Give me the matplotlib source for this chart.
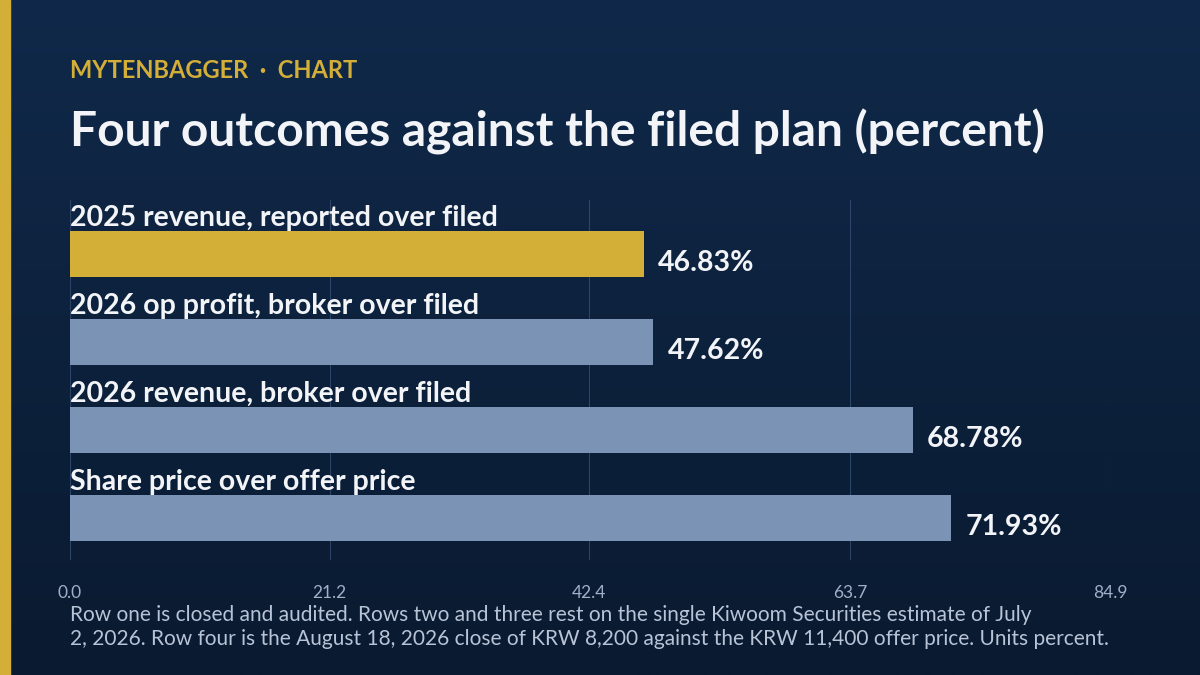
import matplotlib
matplotlib.use("Agg")
import matplotlib.pyplot as plt
import numpy as np

categories = ["2025 revenue, reported over filed", "2026 op profit, broker over filed",
              "2026 revenue, broker over filed", "Share price over offer price"]
values = [46.83, 47.62, 68.78, 71.93]
ticks = [0.0, 21.2, 42.4, 63.7, 84.9]
colors = ["#d4af37", "#7b93b5", "#7b93b5", "#7b93b5"]

plt.rcParams['font.family'] = ['Lato', 'DejaVu Sans']
W, H = 1200, 675
fig = plt.figure(figsize=(12, 6.75), dpi=100)

bg = fig.add_axes([0, 0, 1, 1])
grad = np.linspace(0, 1, 256).reshape(-1, 1)
from matplotlib.colors import LinearSegmentedColormap
cmap = LinearSegmentedColormap.from_list("g", ["#10294a", "#0a1a30"])
bg.imshow(grad, aspect='auto', cmap=cmap, extent=[0, 1, 0, 1], origin='upper')
bg.add_patch(plt.Rectangle((0, 0), 10 / W, 1, color="#d4af37"))
bg.set_xlim(0, 1); bg.set_ylim(0, 1); bg.axis('off')

fig.text(70 / W, 1 - 71 / H, "MYTENBAGGER  ·  CHART", color="#d4af37", fontsize=17,
         fontweight='bold', va='center')
fig.text(70 / W, 1 - 132 / H, "Four outcomes against the filed plan (percent)", color="#f2f4f8",
         fontsize=34.5, fontweight='bold', va='center')

ax = fig.add_axes([70 / W, 1 - 560 / H, 1040 / W, 360 / H])
ax.set_facecolor('none')
y = np.arange(len(values))
ax.barh(y, values, height=0.52, color=colors, zorder=3)
for i, (c, v) in enumerate(zip(categories, values)):
    ax.text(0, i - 0.41, c, color="#f2f4f8", fontsize=20.5, fontweight='bold', va='center', ha='left')
    ax.text(v + 1.2, i + 0.1, f"{v:.2f}%", color="#f2f4f8", fontsize=20.5, fontweight='bold',
            va='center', ha='left')
ax.set_xlim(0, 84.9)
ax.set_ylim(3.477, -0.614)
for t in ticks:
    ax.axvline(t, color="#2c4468", lw=0.8, zorder=1)
ax.set_xticks(ticks)
ax.set_xticklabels([f"{t:.1f}" for t in ticks], color="#9fb0c8", fontsize=12.5)
ax.tick_params(length=0, pad=18)
ax.set_yticks([])
for s in ax.spines.values():
    s.set_visible(False)

fig.text(70 / W, 1 - 627 / H,
         "Row one is closed and audited. Rows two and three rest on the single Kiwoom Securities estimate of July\n"
         "2, 2026. Row four is the August 18, 2026 close of KRW 8,200 against the KRW 11,400 offer price. Units percent.",
         color="#b8c4d6", fontsize=15, va='center', linespacing=1.25)

fig.savefig("out.png", dpi=100)
